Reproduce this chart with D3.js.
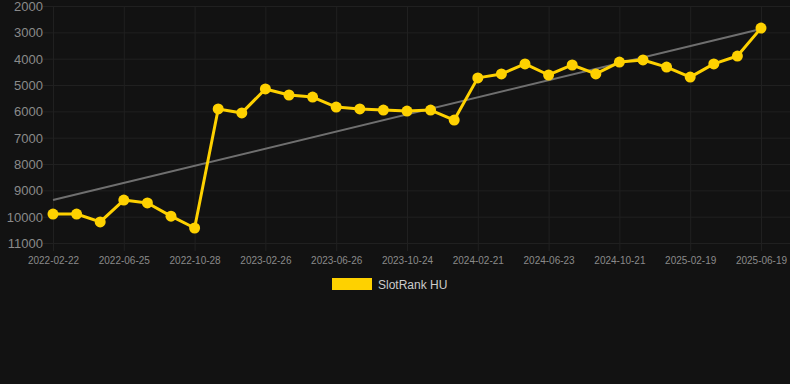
<!DOCTYPE html>
<html>
<head>
<meta charset="utf-8">
<script src="https://cdn.jsdelivr.net/npm/d3@7"></script>
<style>
html,body{margin:0;padding:0;background:#121212;}
svg{display:block;}
text{font-family:"Liberation Sans",Arial,Helvetica,sans-serif;}
</style>
</head>
<body>
<svg id="chart" width="790" height="384"></svg>
<script>
const dates = [
  "2022-02-22","2022-04-04","2022-05-15","2022-06-25","2022-08-05","2022-09-16","2022-10-28",
  "2022-12-07","2023-01-16","2023-02-26","2023-04-07","2023-05-17","2023-06-26","2023-08-05",
  "2023-09-14","2023-10-24","2023-12-03","2024-01-12","2024-02-21","2024-04-02","2024-05-13",
  "2024-06-23","2024-08-02","2024-09-11","2024-10-21","2024-11-30","2025-01-09","2025-02-19",
  "2025-03-31","2025-05-10","2025-06-19"
];
const ranks = [
  9900, 9900, 10200, 9370, 9480, 9980, 10430,
  5910, 6060, 5150, 5380, 5460, 5840, 5910,
  5950, 5990, 5950, 6330, 4730, 4580, 4200,
  4620, 4240, 4580, 4130, 4050, 4320, 4700,
  4200, 3900, 2840
];
const trendEnds = [9370, 2870];
const yTicks = [2000,3000,4000,5000,6000,7000,8000,9000,10000,11000];
const seriesName = "SlotRank HU";

(function(){
const svg = d3.select("#chart");
const W = 790, H = 384;
svg.append("rect").attr("width",W).attr("height",H).attr("fill","#121212");

const pLeft = 53, pRight = 761, pTop = 6, pBottom = 243;
const x = d3.scalePoint().domain(dates).range([pLeft, pRight]);
const y = d3.scaleLinear().domain([2000, 11000]).range([pTop, pBottom]);

const gridColor = "#202020";
const gy = svg.append("g")
  .attr("transform", `translate(${pLeft},0)`)
  .call(d3.axisLeft(y).tickValues(yTicks).tickSize(10).tickPadding(0).tickFormat(d3.format("d")));
gy.select(".domain").remove();
gy.selectAll(".tick line").attr("stroke", gridColor).attr("x1", -10).attr("x2", W - pLeft);
gy.selectAll(".tick text").attr("fill","#8a8a8a").attr("font-size","13px").attr("x",-10).attr("dy","0.35em");

const tickDates = dates.filter((d,i)=> i % 3 === 0);
const gx = svg.append("g")
  .attr("transform", `translate(0,${pBottom})`)
  .call(d3.axisBottom(x).tickValues(tickDates).tickSize(8).tickPadding(6));
gx.select(".domain").remove();
gx.selectAll(".tick line").attr("stroke", gridColor).attr("y1", pTop - pBottom).attr("y2", 8);
gx.selectAll(".tick text").attr("fill","#8a8a8a").attr("font-size","10px");

svg.append("line")
  .attr("x1", x(dates[0])).attr("y1", y(trendEnds[0]))
  .attr("x2", x(dates[dates.length-1])).attr("y2", y(trendEnds[1]))
  .attr("stroke", "#6f6f6f").attr("stroke-width", 2);

const yellow = "#fed100";
const line = d3.line().x((d,i)=>x(dates[i])).y(d=>y(d));
svg.append("path").datum(ranks)
  .attr("d", line).attr("fill","none").attr("stroke", yellow).attr("stroke-width", 3).attr("stroke-linejoin","round");
svg.append("g").selectAll("circle").data(ranks).join("circle")
  .attr("cx", (d,i)=>x(dates[i])).attr("cy", d=>y(d)).attr("r", 5.5).attr("fill", yellow);

svg.append("rect").attr("x",332).attr("y",278).attr("width",40).attr("height",12).attr("fill",yellow);
svg.append("text").attr("x",378).attr("y",288.5).attr("fill","#cccccc").attr("font-size","12px").text(seriesName);
})();
</script>
</body>
</html>
